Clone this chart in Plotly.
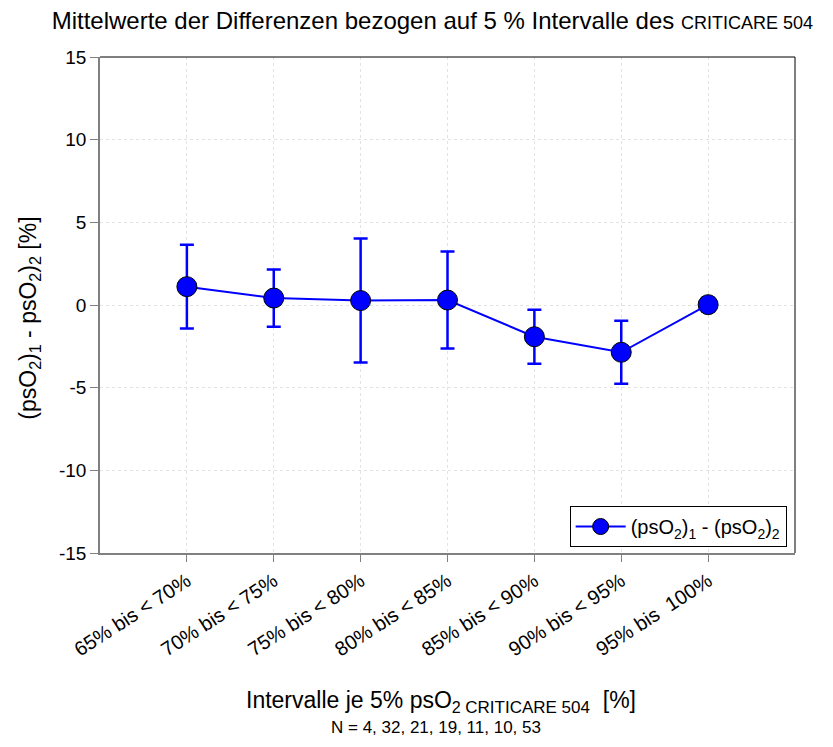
import plotly.graph_objects as go

categories = ["65% bis < 70%", "70% bis < 75%", "75% bis < 80%", "80% bis < 85%",
              "85% bis < 90%", "90% bis < 95%", "95% bis \u00a0100%"]
mean_diff = [1.11, 0.42, 0.27, 0.30, -1.92, -2.86, 0.02]
sd_diff = [2.53, 1.73, 3.75, 2.93, 1.63, 1.90, 0.40]
y_ticks = [-15, -10, -5, 0, 5, 10, 15]
y_tick_text = ["-15", "-10", "-5", "0", "5", "10", "15"]

x_idx = list(range(len(categories)))
FONT = "Liberation Sans, Arial, sans-serif"
AXIS_GRAY = "#808080"

fig = go.Figure()
fig.add_trace(go.Scatter(
    x=x_idx, y=mean_diff,
    mode="lines+markers",
    name="(psO<sub>2</sub>)<sub>1</sub> - (psO<sub>2</sub>)<sub>2</sub>",
    line=dict(color="#0000ff", width=2),
    marker=dict(color="#0000ff", size=20, line=dict(color="black", width=1)),
    error_y=dict(type="data", array=sd_diff, visible=True,
                 color="#0000ff", thickness=2.5, width=7),
))

fig.update_layout(
    width=833, height=747,
    paper_bgcolor="white", plot_bgcolor="white",
    margin=dict(l=100, r=38, t=57, b=194),
    font=dict(family=FONT, color="black"),
    title=dict(
        text="Mittelwerte der Differenzen bezogen auf 5 % Intervalle des <span style='font-size:18px'>CRITICARE 504</span>",
        x=0.519, xanchor="center", y=0.972, yanchor="middle",
        font=dict(size=24, family=FONT, color="black"),
    ),
    showlegend=True,
    legend=dict(
        x=0.988, y=0.012, xanchor="right", yanchor="bottom",
        bordercolor="black", borderwidth=1, bgcolor="white",
        font=dict(size=20, family=FONT),
        itemwidth=50,
    ),
)

fig.update_xaxes(
    range=[-1, 7],
    tickmode="array", tickvals=x_idx, ticktext=categories,
    tickangle=-33, tickfont=dict(size=20, family=FONT),
    showgrid=True, gridcolor="#e2e2e2", griddash="dot", gridwidth=1,
    showline=True, linecolor=AXIS_GRAY, linewidth=1.5, mirror=False,
    ticks="outside", ticklen=7, tickcolor=AXIS_GRAY,
    zeroline=False,
)
fig.update_yaxes(
    range=[-15, 15],
    tickmode="array", tickvals=y_ticks, ticktext=y_tick_text,
    tickfont=dict(size=19, family=FONT),
    showgrid=True, gridcolor="#e2e2e2", griddash="dot", gridwidth=1,
    showline=True, linecolor=AXIS_GRAY, linewidth=1.5,
    ticks="outside", ticklen=8, tickcolor=AXIS_GRAY,
    zeroline=False,
)

# top and right frame
fig.add_shape(type="line", xref="paper", yref="paper", x0=1, x1=1, y0=0, y1=1,
              line=dict(color="black", width=1))
fig.add_shape(type="line", xref="paper", yref="paper", x0=0, x1=1, y0=1, y1=1,
              line=dict(color="black", width=1))

fig.add_annotation(
    text="Intervalle je 5% psO<sub>2 <span style='font-size:17px'>CRITICARE 504</span></sub>  [%]",
    xref="paper", yref="paper", x=0.491, y=-0.3, xanchor="center", yanchor="middle",
    showarrow=False, font=dict(size=23, family=FONT),
)
fig.add_annotation(
    text="(psO<sub>2</sub>)<sub>1</sub> - psO<sub>2</sub>)<sub>2</sub> [%]",
    xref="paper", yref="paper", x=-0.101, y=0.474, xanchor="center", yanchor="middle",
    textangle=-90, showarrow=False, font=dict(size=23, family=FONT),
)
fig.add_annotation(
    text="N = 4, 32, 21, 19, 11, 10, 53",
    xref="paper", yref="paper", x=0.483, y=-0.352, xanchor="center", yanchor="middle",
    showarrow=False, font=dict(size=17, family=FONT),
)

fig.write_html("out.html")
